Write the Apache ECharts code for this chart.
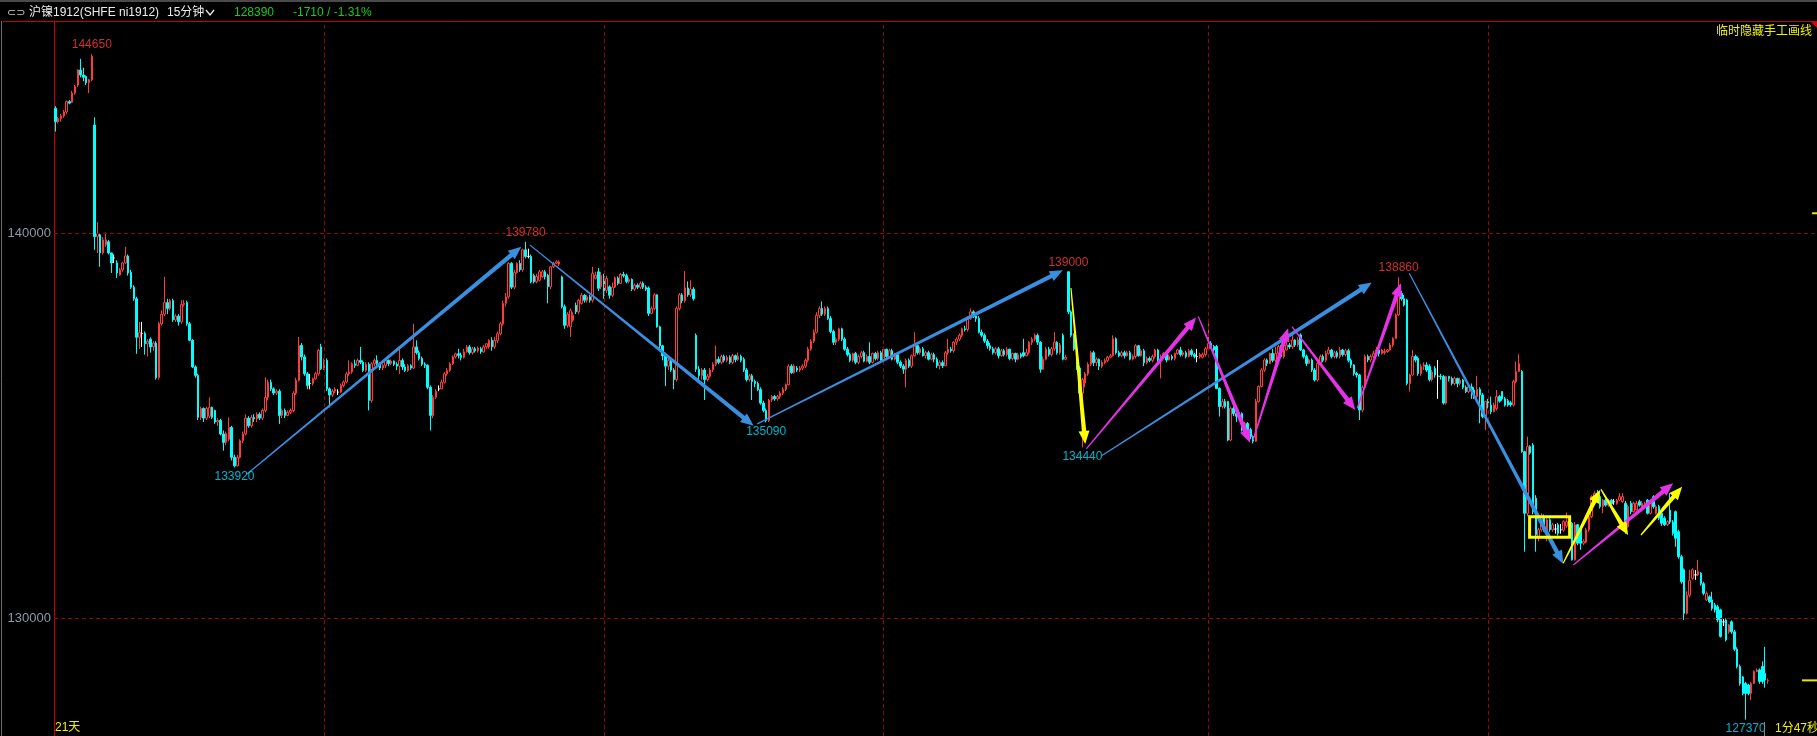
<!DOCTYPE html>
<html><head><meta charset="utf-8">
<script src="https://cdn.jsdelivr.net/npm/echarts@6/dist/echarts.min.js"></script>
<style>html,body{margin:0;padding:0;background:#000;overflow:hidden}#c{width:1817px;height:736px}</style>
</head><body><div id="c"></div>
<script>
// [open, close, low, high] for each 15-minute bar
const candles = [
[143250,142900,142640,143300],[142900,142980,142850,143020],[142980,143050,142900,143100],[143050,143150,143000,143200],[143150,143420,143100,143450],
[143420,143380,143350,143460],[143400,143640,143380,143700],[143640,143810,143600,143850],[143850,144240,143800,144260],[144240,144110,144050,144530],
[144110,144050,143950,144300],[144070,143910,143850,144100],[143910,143990,143640,144010],[143980,144600,143950,144650],[142810,139910,139570,143010],
[139910,140000,139490,140290],[139960,139490,139130,140000],[139490,139830,139450,139900],[139700,139830,139650,140020],[139780,139490,139450,139830],
[139490,139230,138970,139500],[139360,139360,139230,139450],[139230,138970,138840,139300],[138920,139050,138900,139100],[139050,139230,139000,139260],
[139230,139410,139200,139650],[139410,138970,138900,139450],[138990,138600,138550,139050],[138600,138300,138250,138650],[138300,137300,136870,138350],
[137300,137420,137000,137700],[137400,137400,137050,137700],[137400,137130,136850,137450],[137130,137200,136800,137250],[137250,137050,136900,137300],
[137050,137150,136950,137200],[137150,136250,136200,137200],[136250,137650,136200,137700],[137650,137900,137600,138000],[137900,138200,137850,138870],
[138200,138050,137900,138300],[138050,138250,138000,138300],[138250,137750,137700,138300],[137750,137850,137700,137900],[137850,137700,137600,137900],
[137700,138150,137650,138263],[138150,138180,138100,138270],[138200,137650,137600,138250],[137650,137220,137200,137700],[137220,136530,136500,137250],
[136530,136310,136250,136570],[136310,135220,135150,136350],[135220,135450,135150,135500],[135450,135200,135100,135480],[135200,135450,135150,135500],
[135250,135480,135200,135740],[135480,135220,135180,135500],[135400,135100,135050,135420],[135100,135140,135000,135200],[135140,134790,134750,135180],
[134790,134570,134355,134880],[134570,134800,134500,134850],[134650,134960,134600,135220],[134960,134180,134100,135000],[134180,133960,133920,134250],
[133960,134180,133950,134250],[134180,134615,134150,134650],[134615,134790,134550,134850],[134790,135200,134750,135300],[135200,135000,134950,135250],
[135000,135220,134950,135280],[135220,135180,135100,135300],[135180,135300,135100,135350],[135300,135200,135150,135350],[135200,135400,135150,135450],
[135400,135740,135350,136260],[135740,136130,135660,136200],[136130,135960,135900,136200],[135960,135850,135800,136000],[135850,135900,135800,135950],
[135900,135270,135050,135950],[135270,135400,135200,135450],[135400,135270,135200,135450],[135270,135350,135250,135400],[135350,135400,135300,135450],
[135400,135850,135350,135900],[135850,136180,135800,136250],[136180,137090,136150,137310],[137090,136790,136700,137150],[136790,136350,136300,136850],
[136350,136050,135950,136400],[136100,136100,135950,136350],[136100,136220,136050,136250],[136220,136350,136200,136400],[136350,136960,136300,137000],
[137050,136480,136450,137130],[136480,136700,136450,136750],[136700,135960,135900,136750],[135960,135800,135480,136000],[135800,135900,135750,135950],
[135900,135950,135850,136000],[135875,135875,135800,135950],[135875,136050,135850,136100],[136050,136140,136000,136180],[136140,136350,136100,136400],
[136350,136400,136300,136700],[136400,136610,136350,136650],[136610,136570,136500,136720],[136570,136700,136550,136750],[136700,136650,136600,137050],
[136650,136440,136400,136700],[136440,136600,136400,136650],[136600,135660,135400,136650],[135660,136610,135600,136650],[136610,136700,136550,136750],
[136700,136620,136550,136830],[136620,136500,136450,136650],[136500,136570,136450,136600],[136570,136700,136500,136750],[136700,136620,136550,136720],
[136620,136680,136580,136720],[136680,136600,136550,136700],[136600,136550,136450,136650],[136550,136700,136350,137000],[136700,136530,136450,136750],
[136530,136440,136400,136600],[136440,136560,136400,136600],[136560,136500,136450,136600],[136500,137050,136480,137650],[137050,136900,136850,137220],
[136900,136750,136700,136960],[136750,136600,136550,136800],[136600,136570,136500,136650],[136570,136000,135950,136600],[136000,135270,134880,136050],
[135270,135740,135200,135800],[135740,135900,135700,135950],[135960,135960,135900,136050],[135960,136130,135950,136200],[136130,136350,136100,136400],
[136350,136440,136300,136500],[136440,136610,136400,136650],[136610,136790,136580,136830],[136790,136870,136750,136900],[136870,136830,136750,137000],
[136830,136780,136700,136900],[136780,136920,136750,137000],[136920,137050,136900,137100],[137050,136900,136850,137100],[136900,137000,136850,137050],
[137000,136950,136900,137050],[136950,137020,136900,137060],[137000,136920,136870,137050],[136920,137050,136900,137100],[137050,137130,137000,137150],
[137050,137220,137000,137250],[137220,137050,136950,137300],[137050,137220,137000,137310],[137220,137390,137150,137450],[137390,137650,137350,137700],
[137650,138180,137600,138250],[138180,138350,138100,138450],[138350,139220,138300,139250],[139220,138600,138550,139250],[138600,138980,138550,139050],
[138980,139220,138950,139250],[139220,139050,139000,139300],[139050,139570,139000,139600],[139570,139400,139350,139780],[139400,139400,139350,139600],
[139400,138740,138700,139450],[138900,138740,138700,138950],[138740,138880,138700,138950],[138780,139000,138750,139050],[138870,139000,138850,139050],
[139000,138870,138800,139050],[138910,138610,138180,138950],[138610,139130,138550,139150],[139130,139220,139100,139260],[139220,139260,139200,139300],
[139200,139260,139150,139300],[138870,138090,138050,138900],[138090,137610,137520,138150],[137610,137900,137550,137950],[137570,137990,137310,138050],
[137740,137870,137700,137950],[138130,137960,137900,138200],[137960,138260,137900,138300],[138180,138390,138150,138450],[138390,138260,138200,138420],
[138260,138350,138200,138400],[138350,138260,138200,138400],[138260,138960,138200,139130],[138830,138910,138800,139000],[139000,138570,138500,139100],
[138610,138910,138550,139000],[138870,138390,138300,138950],[138520,138830,138450,138900],[138610,138390,138300,138650],[138390,138600,138350,138720],
[138600,138840,138580,138880],[138840,138700,138650,138880],[138700,138930,138680,138970],[138930,138900,138850,139000],[138900,138750,138700,138950],
[138750,138800,138700,138850],[138800,138550,138500,138830],[138550,138650,138500,138700],[138650,138600,138550,138700],[138600,138700,138550,138750],
[138700,138600,138550,138750],[138600,138550,138500,138650],[138580,137920,137850,138620],[137920,138050,137900,138100],[138050,138400,138000,138450],
[138400,137570,137550,138420],[137570,137080,137000,137600],[137080,136820,136700,137100],[136820,136550,136030,136900],[136550,136700,136450,136750],
[136700,136450,136400,136750],[136450,136200,135950,136500],[136200,138050,136150,138100],[138050,138400,138000,138450],[138400,138250,138180,138450],
[138250,138580,138200,139020],[138580,138400,138350,138750],[138400,138550,138350,138780],[138550,138300,138250,138600],[137350,136470,136400,137400],
[136470,136300,136200,136550],[136300,136450,136200,136500],[136450,136200,135670,136500],[136200,136290,136150,136350],[136290,136450,136250,136500],
[136450,136600,136400,136650],[136600,136730,136550,137080],[136730,136650,136600,136800],[136650,136800,136600,136850],[136800,136700,136650,136850],
[136700,136780,136650,136830],[136780,136650,136600,136830],[136650,136820,136600,136870],[136820,136720,136650,136850],[136720,136800,136680,136900],
[136800,136700,136650,136850],[136730,136450,136400,136780],[136450,136200,136150,136500],[136200,136300,136150,136350],[136300,136150,135670,136350],
[136150,136100,136000,136200],[136100,135940,135900,136150],[135940,135590,135550,136000],[135590,135400,135350,135650],[135400,135140,135090,135450],
[135140,135670,135100,135700],[135670,135760,135620,135800],[135760,135700,135650,135800],[135700,135760,135650,135800],[135760,135850,135700,135900],
[135850,135950,135800,136000],[135950,136070,135900,136100],[136070,136550,136050,136600],[136550,136380,136350,136600],[136380,136550,136350,136600],
[136500,136450,136400,136550],[136450,136500,136400,136550],[136500,136550,136450,136600],[136550,136700,136500,136750],[136700,136990,136650,137050],
[136990,137200,136950,137250],[137200,137430,137150,137500],[137430,137870,137400,137950],[137870,138050,137800,138100],[138050,137900,137850,138230],
[137900,138050,137850,138100],[138050,137790,137750,138100],[137790,137450,137400,137850],[137450,137170,137100,137500],[137170,137250,137100,137300],
[137250,137520,137200,137550],[137520,137250,137200,137550],[137250,136990,136950,137300],[136990,136850,136800,137050],[136850,136700,136650,136900],
[136700,136880,136650,136900],[136880,136650,136600,136920],[136650,136800,136600,136850],[136800,136900,136750,136950],[136900,136680,136650,136950],
[136680,136800,136650,136850],[136800,136650,136600,137170],[136650,136880,136620,136900],[136880,136750,136700,136920],[136750,136900,136700,136950],
[136900,136700,136650,136950],[136700,136990,136650,137050],[136990,136800,136750,137000],[136800,136950,136750,137000],[136950,136730,136700,137000],
[136730,136850,136700,136900],[136850,136650,136600,136900],[136650,136550,136500,136700],[136550,136470,136350,136600],[136470,136700,136000,136750],
[136700,136550,136500,136750],[136550,136820,136500,136850],[136820,137080,136800,137430],[137080,136900,136850,137100],[136900,137000,136850,137050],
[137000,136820,136800,137050],[136820,136900,136750,136950],[136900,136730,136700,136950],[136730,136850,136700,136900],[136850,136730,136650,136900],
[136730,136560,136500,136780],[136560,136640,136470,136700],[136640,136560,136500,136700],[136560,136900,136550,136950],[136900,136990,136850,137260],
[136990,136950,136900,137050],[136950,137170,136900,137200],[137170,137250,137100,137300],[137250,137350,137200,137400],[137350,137520,137300,137550],
[137520,137500,137450,137600],[137500,137790,137450,137850],[137790,137960,137750,138050],[137960,137850,137800,138000],[137850,137790,137700,137900],
[137790,137430,137400,137850],[137430,137350,137300,137500],[137350,137200,137150,137400],[137200,137080,137000,137250],[137080,137000,136950,137150],
[137000,136900,136850,137050],[136900,137000,136850,137050],[137000,136820,136750,137050],[136820,136950,136800,137000],[136950,136850,136800,137000],
[136850,136990,136800,137050],[136990,136750,136700,137000],[136750,136880,136700,136900],[136880,136730,136650,136900],[136730,136850,136700,136900],
[136850,136800,136750,136900],[136900,136820,136780,137260],[136820,136900,136800,137000],[136900,137170,136850,137200],[137170,137250,137100,137300],
[137250,137350,137200,137400],[137350,137170,137100,137400],[137170,136470,136380,137200],[136470,136730,136450,136800],[136730,136990,136700,137050],
[136990,136850,136800,137050],[136850,137000,136800,137050],[137000,137170,136950,137430],[137170,136900,136850,137200],[136900,137100,136850,137150],
[137350,136730,136700,137400],[136730,136780,136700,136850],[139000,137960,137900,139000],[137960,137350,137300,138000],[137350,136990,136950,137400],
[136990,136500,136450,137050],[136500,135850,135800,136550],[135850,136200,134440,136250],[136110,136350,136000,136400],[136350,136600,136300,136650],
[136600,136900,136550,136950],[136900,136640,136550,136950],[136640,136730,136550,136780],[136730,136550,136450,136750],[136550,136640,136500,136700],
[136640,136700,136600,136750],[136700,136780,136650,136820],[136780,136820,136750,136870],[136820,137260,136800,137350],[137260,136900,136850,137300],
[136900,136820,136780,136950],[136820,136900,136780,136950],[136900,136820,136750,136950],[136820,136900,136800,136950],[136900,136730,136700,136950],
[136730,136800,136700,136850],[136800,137080,136750,137120],[137080,136820,136800,137100],[136820,136950,136800,137000],[136950,136640,136550,137000],
[136640,136750,136600,136800],[136750,136700,136650,136800],[136700,136800,136650,136850],[136800,136970,136750,137000],[136970,136710,136650,137000],
[136710,136800,136230,136850],[136800,136880,136750,136920],[136880,136710,136650,136900],[136710,136800,136700,136850],[136800,136750,136700,136850],
[136750,136880,136700,136900],[136880,136970,136850,137000],[136970,136850,136800,137050],[136850,136900,136800,136950],[136900,136800,136750,136950],
[136800,136950,136780,137000],[136950,136850,136800,137000],[136850,136800,136750,136900],[136800,136800,136650,137000],[136800,136850,136750,136900],
[136780,136850,136750,136900],[136850,137000,136800,137050],[137000,137140,136950,137660],[137140,137060,137000,137200],[137060,136970,136900,137100],
[137060,135970,135950,137100],[135970,135500,135240,136000],[135500,135630,135450,135700],[135630,135500,135450,135700],[135630,134630,134600,135650],
[134630,135450,134600,135500],[135450,135320,135250,135500],[135320,135250,135100,135400],[135250,135320,135200,135400],[135320,134890,134850,135350],
[134890,135060,134850,135100],[135060,134760,134700,135100],[134900,134720,134650,134950],[134720,134600,134545,134750],[134600,135630,134580,135700],
[135630,136020,135600,136050],[136020,136450,136000,136500],[136450,136710,136400,136750],[136710,136620,136550,136750],[136620,136880,136600,136900],
[136880,136700,136650,137000],[136700,136880,136650,137050],[136880,137060,136850,137100],[137060,136800,136750,137100],[136800,136970,136750,137000],
[136970,137100,136950,137400],[137100,137050,137000,137150],[137050,137230,137000,137400],[137230,137100,137050,137250],[137100,137230,137050,137300],
[137360,136970,136950,137400],[136970,136800,136750,137000],[136800,136620,136550,136850],[136620,136710,136600,136750],[136710,136450,136400,136750],
[136450,136190,136150,136500],[136190,136620,136150,136650],[136620,136800,136600,136850],[136800,136700,136650,136850],[136700,136880,136650,136950],
[136880,136970,136850,137050],[136970,136800,136750,137000],[136800,136900,136750,136950],[136900,136800,136750,136950],[136800,136970,136750,137050],
[136970,136850,136800,137000],[136850,136950,136800,137000],[136950,136700,136650,137000],[136700,136580,136500,136750],[136580,136360,136300,136600],
[136360,136320,136250,136400],[136320,135410,135150,136350],[135410,136000,135350,136050],[136000,136800,135950,136850],[136800,136710,136650,136850],
[136710,136800,136650,136850],[136800,136880,136750,136950],[136880,136970,136850,137050],[136970,136880,136800,137050],[136880,136970,136850,137000],
[136900,136930,136850,137000],[136930,136970,136900,137000],[136970,137100,136950,137150],[137100,137270,137050,137300],[137270,137880,137250,137920],
[137880,138440,137850,138860],[138440,138300,138250,138500],[138300,138140,138100,138400],[138270,136100,136050,138300],[136100,136320,135890,136350],
[136320,136800,136300,136970],[136800,136710,136650,136850],[136750,136360,136300,136800],[136360,136540,136300,136600],[136540,136580,136450,136650],
[136580,136450,136400,136650],[136540,136200,136150,136600],[136200,136400,136150,136450],[136490,136320,136250,136550],[136290,136290,135700,136710],
[136290,136280,136200,136350],[136280,135590,135550,136320],[135590,136280,135550,136300],[136280,136230,136150,136300],[136230,136100,136050,136280],
[136100,136230,136050,136280],[136230,136100,136000,136250],[136100,136190,136050,136250],[136190,136000,135950,136220],[136000,135890,135850,136050],
[135890,136010,135850,136050],[136010,135930,135700,136100],[135930,135760,135700,136000],[135760,135950,135700,136300],[135950,135800,135065,136000],
[135800,135240,135200,135850],[135240,135630,134890,135650],[135630,135540,135450,135700],[135540,135370,135300,135760],[135370,135540,135350,135600],
[135450,135760,135400,135930],[135760,135640,135600,135800],[135890,135700,135650,135900],[135700,135540,135500,135750],[135650,135540,135500,135700],
[135600,135550,135500,135650],[135540,136150,135500,136200],[136150,136410,136100,136670],[136410,136620,136400,136860],[136410,134330,134300,136450],
[134330,132730,131730,134350],[132730,134460,132650,134720],[134460,134300,134250,134500],[134500,132770,132700,134550],[133120,132170,131730,133200],
[132080,132300,132000,132350],[132300,132640,132250,132730],[132640,132300,132250,132700],[132300,132560,132000,132600],[132560,132300,132250,132600],
[132300,132430,132250,132480],[132320,132320,132200,132450],[132430,132210,132150,132480],[132300,132300,132200,132450],[132290,132510,132250,132550],
[132400,132510,132350,132750],[132510,132470,132400,132550],[132470,131520,131500,132500],[131520,132430,131500,132500],[132430,131950,131900,132450],
[132300,131950,131780,132350],[131950,132000,131900,132050],[131980,132300,131950,132350],[132300,132640,132250,132700],[132640,133160,132600,133200],
[133000,133250,132950,133300],[133250,133080,133050,133330],[133160,132900,132850,133200],[132900,133070,132730,133100],[133070,132940,132900,133100],
[132940,133070,132900,133100],[133070,132980,132950,133100],[133030,133030,132950,133100],[132980,133070,132950,133100],[133070,133160,133050,133250],
[133030,133160,133000,133250],[132990,132380,132200,133050],[132380,132900,132350,132950],[132990,132770,132700,133050],[132770,132990,132750,133030],
[132820,132990,132800,133050],[133030,132940,132900,133080],[132900,132990,132850,133050],[132900,132990,132880,133030],[133070,132730,132700,133100],
[132730,132990,132700,133030],[133160,132900,132850,133200],[132730,132900,132700,132950],[132900,132600,132550,132950],[132730,132470,132400,132780],
[132600,132430,132400,132650],[132430,132510,132400,132550],[132810,132500,132450,133250],[132500,132210,132150,132550],[132770,132080,131860,132800],
[132250,131600,131550,132300],[131600,130950,130900,131650],[131260,130130,129960,131300],[130130,130600,130100,130700],[130600,130990,130550,131260],
[131040,131260,131000,131300],[131130,131130,131000,131250],[131130,131220,131100,131520],[131170,130900,130850,131200],[130900,130650,130600,130950],
[130480,130650,130450,130700],[130560,130430,130400,130600],[130480,130260,130200,130690],[130350,130220,130150,130400],[130300,129960,129900,130350],
[130220,129530,129500,130250],[129910,129910,129800,130000],[129960,129440,129400,130000],[129650,129830,129600,129850],[129910,129650,129600,129950],
[129650,129200,129150,129700],[129200,128750,128700,129250],[128750,128310,128250,128800],[128480,128050,128000,128500],[128310,128050,127370,128350],
[128270,128050,128000,128300],[128050,128310,127880,128350],[128310,128620,128300,128650],[128620,128660,128600,128700],[128660,128360,128300,128700],
[128750,128360,128300,128880],[128570,128400,128200,129260],[128380,128390,128300,128440]
];
const slotCount = 630;                 // bar slots on the axis (incl. empty space on the right)
const categories = Array.from({length: slotCount}, (_, i) => String(i));
const yTickValues = [130000, 140000];
const highMarks = [[13,144650],[168,139780],[362,139000],[480,138860]];
const lowMarks = [[64,133920],[254,135090],[367,134440],[604,127370]];
const sessionBreaks = [96,196,296,412,512];
// hand-drawn lines: [startBar, startPrice, endBar, endPrice]
const blueArrows = [[68.5,133750,166.5,139650],[169.5,139700,249.5,135000],[250.8,135050,360,139040],[374,134230,470.4,138720],[483.8,138960,538.8,131420]];
const magentaArrows = [[368.4,134400,407.6,137810],[408.4,137840,426.9,134563],[428,134633,440.5,137533],[441.9,137576,464.5,135412],[465.2,135455,480.8,138700],[542.4,131386,578.1,133507]];
const yellowArrows = [[362.9,138580,368,134530],[538.8,131430,552,133334],[552.3,133351,562,132165],[566.6,132165,581.3,133420]];
const yellowBoxes = [[526.8,132640,541.1,132105]];
const rightMarkers = [140520, 128390];
const titleName = '沪镍1912(SHFE ni1912)';
const periodText = '15分钟';
const lastPriceText = '128390';
const changeText = '-1710 / -1.31%';

const chart = echarts.init(document.getElementById('c'), null, {renderer:'canvas'});

function px(api, i, p) {
  const a = api.coord([0, p]), b = api.coord([1, p]);
  return [a[0] + i * (b[0] - a[0]), a[1]];
}
function arrowSeries(list, color) {
  return {
    type:'custom', silent:true, animation:false, z:6, clip:false,
    data: list.map(d => [0, d[1]]),
    renderItem: (params, api) => {
      const d = list[params.dataIndex];
      const s = px(api, d[0], d[1]), e = px(api, d[2], d[3]);
      const dx = e[0]-s[0], dy = e[1]-s[1], L = Math.hypot(dx, dy) || 1;
      const ux = dx/L, uy = dy/L, nx = -uy, ny = ux;
      const hl = 13, hh = 5.5, w0 = 0.6, w1 = 2.2;
      const bx = e[0]-ux*hl, by = e[1]-uy*hl;
      const pts = [[s[0]+nx*w0, s[1]+ny*w0],[bx+nx*w1, by+ny*w1],[bx+nx*hh, by+ny*hh],[e[0],e[1]],
                   [bx-nx*hh, by-ny*hh],[bx-nx*w1, by-ny*w1],[s[0]-nx*w0, s[1]-ny*w0]];
      return {type:'polygon', shape:{points:pts}, style:{fill:color}};
    }
  };
}

const labelFont = 'Liberation Sans, Arial, sans-serif';
const option = {
  backgroundColor:'#000',
  animation:false,
  grid:{left:54, right:0, top:21, bottom:0, containLabel:false},
  xAxis:{type:'category', data:categories, boundaryGap:true,
    axisLine:{show:false}, axisTick:{show:false}, axisLabel:{show:false}, splitLine:{show:false}},
  yAxis:{type:'value', min:126945, max:145513, scale:true,
    axisLine:{show:true, lineStyle:{color:'#c80000', width:1}},
    axisTick:{show:false}, splitLine:{show:false},
    axisLabel:{customValues:yTickValues, formatter:v => String(v), color:'#8c9aa8', fontSize:13, fontFamily:labelFont, margin:3}},
  series:[
    {type:'candlestick', data:candles, large:false, barWidth:2, z:3,
     itemStyle:{color:'#000', color0:'#00ffff', borderColor:'#ff3c3c', borderColor0:'#00ffff', borderColorDoji:'#ffffff', borderWidth:1},
     markLine:{silent:true, symbol:['none','none'], label:{show:false}, animation:false,
       lineStyle:{color:'#8b0b0b', type:[4,3], width:1},
       emphasis:{disabled:true},
       data:[...yTickValues.map(v => ({yAxis:v})), ...sessionBreaks.map(v => ({xAxis:String(v)}))]}},
    {type:'scatter', data:highMarks, symbolSize:1, itemStyle:{color:'rgba(0,0,0,0)'}, silent:true, z:7,
     label:{show:true, position:'top', distance:3, formatter:p => p.value[1], color:'#ff3c3c', fontSize:12, fontFamily:labelFont}},
    {type:'scatter', data:lowMarks, symbolSize:1, itemStyle:{color:'rgba(0,0,0,0)'}, silent:true, z:7,
     label:{show:true, position:'bottom', distance:3, formatter:p => p.value[1], color:'#00e0ff', fontSize:12, fontFamily:labelFont}},
    arrowSeries(blueArrows, '#3a8ee0'),
    arrowSeries(magentaArrows, '#e632e6'),
    arrowSeries(yellowArrows, '#ffff00'),
    {type:'custom', silent:true, animation:false, z:6, clip:false,
     data: yellowBoxes.map(d => [0, d[1]]),
     renderItem:(params, api) => {
       const d = yellowBoxes[params.dataIndex];
       const a = px(api, d[0], d[1]), b = px(api, d[2], d[3]);
       return {type:'rect', shape:{x:a[0], y:a[1], width:b[0]-a[0], height:b[1]-a[1]},
               style:{fill:'none', stroke:'#ffff00', lineWidth:3}};
     }},
    {type:'custom', silent:true, animation:false, z:6, clip:false,
     data: rightMarkers.map(v => [0, v]),
     renderItem:(params, api) => {
       const v = rightMarkers[params.dataIndex];
       const y = api.coord([0, v])[1];
       const cs = params.coordSys, xr = cs.x + cs.width;
       const len = params.dataIndex === 0 ? 5 : 15;
       return {type:'line', shape:{x1:xr-len, y1:y, x2:xr, y2:y}, style:{stroke:'#e6e600', lineWidth:2}};
     }}
  ],
  graphic:[
    {type:'rect', shape:{x:0, y:0, width:1817, height:2}, style:{fill:'#4a4a4a'}, z:10},
    {type:'line', shape:{x1:3, y1:21.5, x2:1817, y2:21.5}, style:{stroke:'#c80000', lineWidth:1}, z:10},
    {type:'line', shape:{x1:1.5, y1:21, x2:1.5, y2:736}, style:{stroke:'#6e6e6e', lineWidth:1}, z:10},
    {type:'polygon', shape:{points:[[1811,22],[1817,22],[1817,28]]}, style:{fill:'#e00000'}, z:10},
    {type:'text', x:7, y:13, style:{text:'⊂⊃', fill:'#d0d0d0', font:'11px DejaVu Sans', textVerticalAlign:'middle'}, z:10},
    {type:'text', x:29, y:13, style:{text:titleName, fill:'#ececec', font:'12px "Liberation Sans", "Noto Sans CJK SC"', textVerticalAlign:'middle'}, z:10},
    {type:'text', x:167, y:13, style:{text:periodText, fill:'#ececec', font:'12px "Liberation Sans", "Noto Sans CJK SC"', textVerticalAlign:'middle'}, z:10},
    {type:'polyline', shape:{points:[[206,10],[210,15],[214,10]]}, style:{stroke:'#ececec', lineWidth:1.3, fill:null}, z:10},
    {type:'text', x:234, y:13, style:{text:lastPriceText, fill:'#1ec81e', font:'12px "Liberation Sans"', textVerticalAlign:'middle'}, z:10},
    {type:'text', x:293, y:13, style:{text:changeText, fill:'#1ec81e', font:'12px "Liberation Sans"', textVerticalAlign:'middle'}, z:10},
    {type:'text', x:1812, y:30, style:{text:'临时隐藏手工画线', fill:'#f0f000', font:'12px "Noto Sans CJK SC"', textAlign:'right', textVerticalAlign:'middle'}, z:10},
    {type:'text', x:55, y:728, style:{text:'21天', fill:'#f0f000', font:'12px "Liberation Sans", "Noto Sans CJK SC"', textVerticalAlign:'middle'}, z:10},
    {type:'text', x:1775, y:729, style:{text:'1分47秒', fill:'#f0f000', font:'12px "Liberation Sans", "Noto Sans CJK SC"', textVerticalAlign:'middle'}, z:10},
    {type:'line', shape:{x1:1764.5, y1:722, x2:1764.5, y2:736}, style:{stroke:'#8a8a8a', lineWidth:1}, z:10}
  ]
};
chart.setOption(option);
</script>
</body></html>
